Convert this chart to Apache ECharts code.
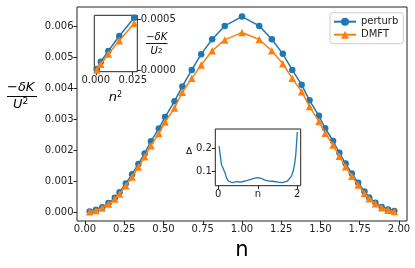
<!DOCTYPE html>
<html>
<head>
<meta charset="utf-8">
<script src="https://cdn.jsdelivr.net/npm/echarts@6/dist/echarts.min.js"></script>
<style>
html,body{margin:0;padding:0;background:#fff;}
#chart{width:415px;height:268px;}
</style>
</head>
<body>
<div id="chart"></div>
<script>
// ---- main panel data ----
const nValues = [0.03,0.07,0.11,0.15,0.19,0.22,0.26,0.30,0.34,0.38,0.42,0.47,0.51,0.57,0.62,0.68,0.74,0.81,0.89,1.00,
                 1.11,1.19,1.26,1.32,1.38,1.43,1.49,1.53,1.58,1.62,1.66,1.70,1.74,1.78,1.81,1.85,1.89,1.93,1.97];
const perturbValues = [0.00002,0.00007,0.00015,0.00029,0.00046,0.00064,0.00092,0.00122,0.00155,0.00189,0.00228,0.00269,0.00306,0.00357,0.00405,0.00458,0.00509,0.00557,0.00600,0.00630,
                       0.00600,0.00557,0.00510,0.00458,0.00410,0.00360,0.00310,0.00270,0.00229,0.00191,0.00156,0.00124,0.00094,0.00066,0.00047,0.00030,0.00016,0.00008,0.00003];
const dmftValues = [0.00001,0.00005,0.00013,0.00026,0.00042,0.00058,0.00085,0.00113,0.00145,0.00178,0.00214,0.00253,0.00290,0.00335,0.00386,0.00431,0.00474,0.00520,0.00555,0.00579,
                    0.00556,0.00520,0.00478,0.00431,0.00388,0.00340,0.00292,0.00254,0.00216,0.00180,0.00146,0.00115,0.00087,0.00060,0.00043,0.00027,0.00014,0.00006,0.00002];
const xTicks = [0,0.25,0.5,0.75,1.0,1.25,1.5,1.75,2.0];
const xTickLabels = ['0.00','0.25','0.50','0.75','1.00','1.25','1.50','1.75','2.00'];
const yTicks = [0,0.001,0.002,0.003,0.004,0.005,0.006];
const yTickLabels = ['0.000','0.001','0.002','0.003','0.004','0.005','0.006'];

// ---- inset 1 (top-left) ----
const inset1N2 = [0.0007,0.0034,0.0085,0.0159,0.0260];
const inset1Perturb = [0.000016,0.000087,0.00019,0.000336,0.000513];
const inset1Dmft = [0.000007,0.000062,0.000162,0.00029,0.000458];
const inset1XTicks = [0,0.025];
const inset1XTickLabels = ['0.000','0.025'];
const inset1YTicks = [0,0.0005];
const inset1YTickLabels = ['0.0000','0.0005'];

// ---- inset 2 (bottom-right) ----
const inset2N = [0.02,0.05,0.08,0.12,0.17,0.21,0.26,0.32,0.38,0.45,0.50,0.55,0.63,0.72,0.80,0.90,1.00,1.08,1.15,1.22,1.30,1.37,1.45,1.52,1.57,1.62,1.68,1.75,1.80,1.85,1.90,1.93,1.96,1.98,2.00];
const inset2Delta = [0.21,0.17,0.13,0.115,0.095,0.072,0.060,0.055,0.053,0.058,0.060,0.055,0.058,0.062,0.066,0.071,0.075,0.072,0.066,0.062,0.060,0.059,0.057,0.055,0.060,0.053,0.056,0.060,0.068,0.080,0.105,0.13,0.17,0.22,0.27];
const inset2XTicks = [0,1,2];
const inset2XTickLabels = ['0','n','2'];
const inset2YTicks = [0.1,0.2];
const inset2YTickLabels = ['0.1','0.2'];

const BLUE = '#1f77b4', ORANGE = '#ff7f0e', INK = '#222';
const FONT = 'DejaVu Sans';

function zip(a,b){ return a.map((v,i)=>[v,b[i]]); }
function labelFrom(ticks, labels){ return v => { for (let i=0;i<ticks.length;i++){ if (Math.abs(ticks[i]-v) < 1e-9) return labels[i]; } return ''; }; }

function axisBase(ticks, labels, extra){
  return Object.assign({
    type:'value',
    splitLine:{show:false},
    axisLine:{show:false, onZero:false},
    axisTick:{show:true, inside:false, length:3.5, lineStyle:{color:INK, width:1}, customValues:ticks},
    axisLabel:{show:true, margin:3.5, color:INK, fontFamily:FONT, fontSize:10, customValues:ticks, formatter:labelFrom(ticks,labels), showMinLabel:true, showMaxLabel:true}
  }, extra);
}

const chart = echarts.init(document.getElementById('chart'), null, {renderer:'canvas'});
const option = {
  animation:false,
  backgroundColor:'#fff',
  grid:[
    {left:77, top:7, width:330, height:214, show:true, borderColor:INK, borderWidth:1, backgroundColor:'transparent'},
    {left:94.3, top:15.3, width:43, height:56.4, show:true, borderColor:INK, borderWidth:1, backgroundColor:'#fff'},
    {left:215.3, top:129, width:85.4, height:56.7, show:true, borderColor:INK, borderWidth:1, backgroundColor:'#fff'}
  ],
  xAxis:[
    axisBase(xTicks, xTickLabels, {gridIndex:0, min:-0.051, max:2.051}),
    axisBase(inset1XTicks, inset1XTickLabels, {gridIndex:1, min:-0.001, max:0.0281}),
    axisBase(inset2XTicks, inset2XTickLabels, {gridIndex:2, min:-0.076, max:2.086})
  ],
  yAxis:[
    axisBase(yTicks, yTickLabels, {gridIndex:0, min:-0.00029, max:0.00661}),
    axisBase(inset1YTicks, inset1YTickLabels, {gridIndex:1, position:'right', min:-0.00001, max:0.000536}),
    axisBase(inset2YTicks, inset2YTickLabels, {gridIndex:2, min:0.04, max:0.283})
  ],
  legend:{
    data:['perturb','DMFT'],
    orient:'vertical',
    left:330, top:12.7,
    itemWidth:22, itemHeight:10, itemGap:3,
    padding:[4,5,4,3],
    borderColor:'#cccccc', borderWidth:1, borderRadius:3,
    backgroundColor:'rgba(255,255,255,0.8)',
    textStyle:{fontFamily:FONT, fontSize:10, color:INK}
  },
  series:[
    {name:'perturb', type:'line', xAxisIndex:0, yAxisIndex:0, data:zip(nValues,perturbValues),
     symbol:'circle', symbolSize:6.5, lineStyle:{color:BLUE, width:1.5}, itemStyle:{color:BLUE}, z:3},
    {name:'DMFT', type:'line', xAxisIndex:0, yAxisIndex:0, data:zip(nValues,dmftValues),
     symbol:'triangle', symbolSize:7.5, lineStyle:{color:ORANGE, width:1.5}, itemStyle:{color:ORANGE}, z:4},
    {name:'perturb_inset', type:'line', xAxisIndex:1, yAxisIndex:1, data:zip(inset1N2,inset1Perturb),
     symbol:'circle', symbolSize:6.5, lineStyle:{color:BLUE, width:1.5}, itemStyle:{color:BLUE}, z:5},
    {name:'DMFT_inset', type:'line', xAxisIndex:1, yAxisIndex:1, data:zip(inset1N2,inset1Dmft),
     symbol:'triangle', symbolSize:7.5, lineStyle:{color:ORANGE, width:1.5}, itemStyle:{color:ORANGE}, z:6},
    {name:'Delta', type:'line', xAxisIndex:2, yAxisIndex:2, data:zip(inset2N,inset2Delta),
     symbol:'none', lineStyle:{color:BLUE, width:1.3}, z:5}
  ],
  graphic:[
    // main y label fraction
    {type:'text', left:7, top:81, style:{text:'{r|−}{i|δK}', rich:{r:{fontFamily:FONT,fontSize:13,fill:'#000'}, i:{fontFamily:FONT,fontSize:13,fontStyle:'italic',fill:'#000'}}}},
    {type:'line', shape:{x1:7, y1:96.5, x2:37, y2:96.5}, style:{stroke:'#000', lineWidth:1}},
    {type:'text', left:13, top:97.5, style:{text:'{i|U}{s|2}', rich:{i:{fontFamily:FONT,fontSize:13,fontStyle:'italic',fill:'#000'}, s:{fontFamily:FONT,fontSize:9,fill:'#000',verticalAlign:'top',padding:[0,0,6,0]}}}},
    // main x label
    {type:'text', x:242, y:251, style:{text:'n', fontFamily:FONT, fontSize:21, fill:'#000', align:'center', verticalAlign:'middle'}},
    // inset1 y label fraction
    {type:'text', x:156.7, y:37.5, style:{text:'{r|−}{i|δK}', rich:{r:{fontFamily:FONT,fontSize:10,fill:'#000'}, i:{fontFamily:FONT,fontSize:10,fontStyle:'italic',fill:'#000'}}, align:'center', verticalAlign:'middle'}},
    {type:'line', shape:{x1:146, y1:43.5, x2:167.5, y2:43.5}, style:{stroke:'#000', lineWidth:0.9}},
    {type:'text', x:156.5, y:51, style:{text:'{i|U}{s|2}', rich:{i:{fontFamily:FONT,fontSize:10,fontStyle:'italic',fill:'#000'}, s:{fontFamily:FONT,fontSize:7,fill:'#000'}}, align:'center', verticalAlign:'middle'}},
    // inset1 x label
    {type:'text', x:115.5, y:98, style:{text:'{i|n}{s|2}', rich:{i:{fontFamily:FONT,fontSize:13,fontStyle:'italic',fill:'#000'}, s:{fontFamily:FONT,fontSize:8,fill:'#000',padding:[0,0,7,0]}}, align:'center', verticalAlign:'middle'}},
    // inset2 y label
    {type:'text', x:189, y:152, style:{text:'Δ', fontFamily:FONT, fontSize:9, fill:'#000', align:'center', verticalAlign:'middle'}}
  ]
};
chart.setOption(option);
</script>
</body>
</html>
